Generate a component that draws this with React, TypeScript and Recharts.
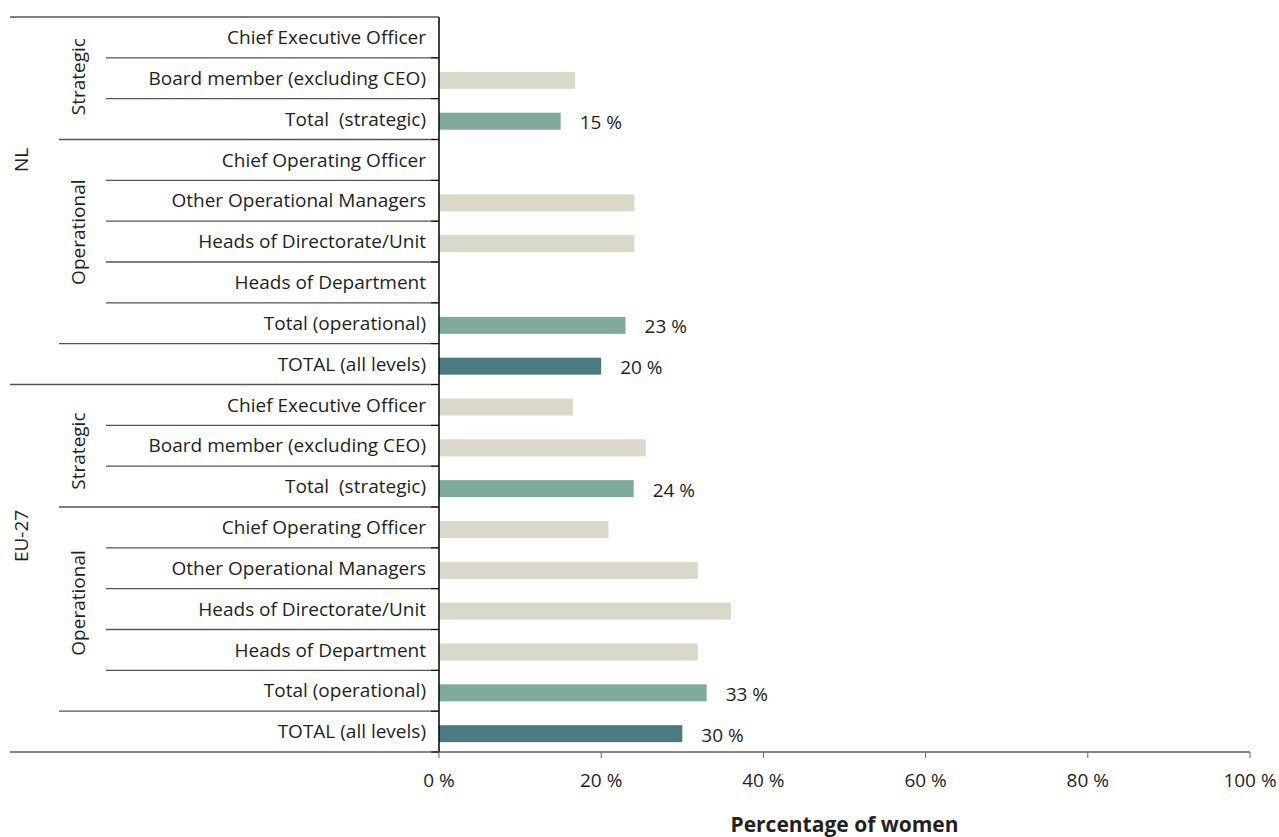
import React from 'react';
import { BarChart, Bar, XAxis, YAxis, LabelList } from 'recharts';

// ---- data ----
const groups = ['NL', 'EU-27'];
const categories = [
  'Chief Executive Officer',
  'Board member (excluding CEO)',
  'Total  (strategic)',
  'Chief Operating Officer',
  'Other Operational Managers',
  'Heads of Directorate/Unit',
  'Heads of Department',
  'Total (operational)',
  'TOTAL (all levels)',
];
const kinds = ['item', 'item', 'subtotal', 'item', 'item', 'item', 'item', 'subtotal', 'total'];
const lineLevels = ['inner', 'inner', 'sub', 'inner', 'inner', 'inner', 'inner', 'sub', 'group'];
const nlValues: (number | null)[] = [null, 16.8, 15, null, 24.1, 24.1, null, 23, 20];
const euValues: (number | null)[] = [16.5, 25.5, 24, 20.9, 31.9, 36.0, 31.9, 33, 30];
const xTicks = [0, 20, 40, 60, 80, 100];
const subgroupLabels = ['Strategic', 'Operational'];

// ---- layout ----
const FONT = "'Open Sans', sans-serif";
const FS = 19;
const W = 1271;
const H = 829;
const MARGIN = { top: 9, right: 29, left: 0, bottom: 5 };
const X_AXIS_H = 80;
const AXIS_X = 431;
const PLOT_H = H - MARGIN.top - MARGIN.bottom - X_AXIS_H;
const N_ROWS = groups.length * categories.length;
const ROW_H = PLOT_H / N_ROWS;
const LINE_START: Record<string, number> = { inner: 98, sub: 51, group: 2 };
const LINE_COLOR = '#555';
const TEXT_COLOR = '#231f20';
const COLORS: Record<string, string> = { item: '#d9d8c9', subtotal: '#7eab9b', total: '#4a7b83' };
// rotated label centres, in row units from top of plot
const groupLabelRows = [3.5, 12.71];
const subgroupLabelRows = [[1.46, 5.27], [10.63, 14.35]];
const GROUP_LABEL_X = 13;
const SUB_LABEL_X = 70;

const data = groups.flatMap((g, gi) =>
  categories.map((c, ci) => {
    const v = (gi === 0 ? nlValues : euValues)[ci];
    return {
      id: `${g}-${ci}`,
      label: c,
      value: v,
      kind: kinds[ci],
      line: lineLevels[ci],
      valueText: kinds[ci] !== 'item' && v != null ? `${Math.round(v)} %` : '',
    };
  })
);

const YTick = (props: any) => {
  const { y, index } = props;
  const row = data[index];
  if (!row) return null;
  const top = y - ROW_H / 2;
  const bottom = y + ROW_H / 2;
  const isLast = index === data.length - 1;
  const els: React.ReactNode[] = [];
  els.push(
    <text
      key="t"
      x={AXIS_X - 13}
      y={y}
      dy="0.35em"
      textAnchor="end"
      fontFamily={FONT}
      fontSize={FS}
      fill={TEXT_COLOR}
      style={{ whiteSpace: 'pre' }}
    >
      {row.label}
    </text>
  );
  els.push(
    <line
      key="l"
      x1={LINE_START[row.line]}
      x2={AXIS_X}
      y1={bottom}
      y2={bottom}
      stroke={isLast ? '#888' : LINE_COLOR}
      strokeWidth={isLast ? 1.8 : 1.3}
    />
  );
  els.push(<line key="tk" x1={AXIS_X - 8} x2={AXIS_X} y1={bottom} y2={bottom} stroke="#000" strokeWidth={1} />);
  if (index === 0) {
    els.push(
      <line key="top" x1={LINE_START.group} x2={AXIS_X} y1={top} y2={top} stroke={LINE_COLOR} strokeWidth={1.3} />
    );
    groups.forEach((g, gi) => {
      const gy = top + groupLabelRows[gi] * ROW_H;
      els.push(
        <text
          key={`g${gi}`}
          x={GROUP_LABEL_X}
          y={gy}
          dy="0.35em"
          textAnchor="middle"
          fontFamily={FONT}
          fontSize={FS}
          fill={TEXT_COLOR}
          transform={`rotate(-90 ${GROUP_LABEL_X} ${gy})`}
        >
          {g}
        </text>
      );
      subgroupLabels.forEach((s, si) => {
        const sy = top + subgroupLabelRows[gi][si] * ROW_H;
        els.push(
          <text
            key={`s${gi}-${si}`}
            x={SUB_LABEL_X}
            y={sy}
            dy="0.35em"
            textAnchor="middle"
            fontFamily={FONT}
            fontSize={FS}
            fill={TEXT_COLOR}
            transform={`rotate(-90 ${SUB_LABEL_X} ${sy})`}
          >
            {s}
          </text>
        );
      });
    });
  }
  return <g>{els}</g>;
};

const BarShape = (props: any) => {
  const { x, y, width, height, payload } = props;
  if (payload == null || payload.value == null || !width || width <= 0) return null;
  return <rect x={x} y={y + 2} width={width} height={height} fill={COLORS[payload.kind]} />;
};

const ValueLabel = (props: any) => {
  const { x, y, width, height, value } = props;
  if (!value) return null;
  return (
    <text
      x={x + width + 19}
      y={y + height / 2 + 3.5}
      dy="0.35em"
      fontFamily={FONT}
      fontSize={FS}
      fill={TEXT_COLOR}
    >
      {value}
    </text>
  );
};

export default function App() {
  return (
    <div style={{ position: 'fixed', left: 8, top: 8, width: W, height: H, background: '#fff' }}>
      <BarChart width={W} height={H} data={data} layout="vertical" margin={MARGIN} barCategoryGap={0}>
        <XAxis
          type="number"
          domain={[0, 100]}
          ticks={xTicks}
          tickFormatter={(v: number) => `${v} %`}
          axisLine={{ stroke: '#888', strokeWidth: 1.8 }}
          tickLine={{ stroke: '#666', strokeWidth: 1 }}
          tickSize={6}
          tickMargin={16}
          height={X_AXIS_H}
          tick={{ fontFamily: FONT, fontSize: FS, fill: TEXT_COLOR }}
          label={{
            value: 'Percentage of women',
            position: 'insideBottom',
            offset: 0,
            style: { fontFamily: FONT, fontSize: 21, fontWeight: 700, fill: TEXT_COLOR },
          }}
        />
        <YAxis
          type="category"
          dataKey="id"
          width={AXIS_X}
          axisLine={{ stroke: '#000', strokeWidth: 1.5 }}
          tickLine={false}
          tick={<YTick />}
          interval={0}
        />
        <Bar dataKey="value" barSize={17} isAnimationActive={false} shape={<BarShape />}>
          <LabelList dataKey="valueText" content={<ValueLabel />} />
        </Bar>
      </BarChart>
    </div>
  );
}
